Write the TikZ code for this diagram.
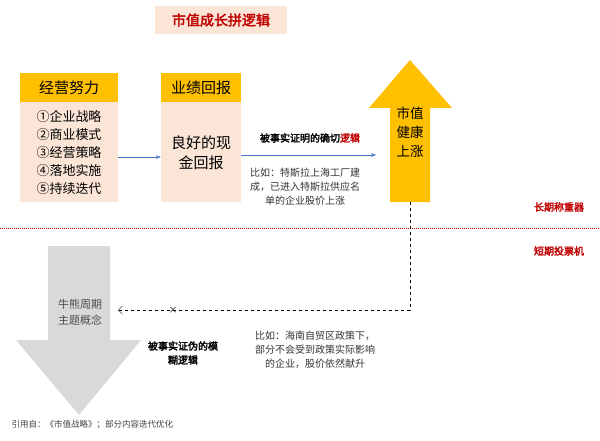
\documentclass[tikz,border=0pt]{standalone}
\usepackage{fontspec}
\setmainfont{Noto Sans CJK SC}[AutoFakeBold=2.5]
\usetikzlibrary{arrows.meta,positioning}
\definecolor{gold}{HTML}{FFC000}
\definecolor{peach}{HTML}{FBE5D6}
\definecolor{darkred}{HTML}{C00000}
\definecolor{flowblue}{HTML}{4472C4}
\begin{document}
\begin{tikzpicture}[x=1pt,y=-1pt]
  \tikzset{head/.style = {fill=gold,minimum width=98pt,minimum height=29pt,inner sep=0pt,font=\fontsize{15}{16}\selectfont}}
  \tikzset{body/.style = {fill=peach,minimum width=98pt,minimum height=100pt,inner sep=0pt,align=center}}
  \tikzset{note/.style = {align=center,font=\fontsize{10}{14}\selectfont,text=black!80}}
  \tikzset{side/.style = {text=darkred,font=\fontsize{10}{11}\selectfont\bfseries}}
  \tikzset{edge/.style = {-{Stealth[length=5pt]},flowblue}}
  \useasboundingbox (0,0) rectangle (600,441);

  % title
  \node[fill=peach,minimum width=132pt,minimum height=28pt,text=darkred,font=\fontsize{14}{15}\selectfont\bfseries] (title) at (221,20) {市值成长拼逻辑};

  % two boxes
  \node[head] (effH) at (69,87.5) {经营努力};
  \node[body,below=0pt of effH,font=\fontsize{13}{18}\selectfont] (effB) {①企业战略\\②商业模式\\③经营策略\\④落地实施\\⑤持续迭代};
  \node[head,minimum width=80pt] (perfH) at (201,87.5) {业绩回报};
  \node[body,minimum width=80pt,below=0pt of perfH,font=\fontsize{15}{20}\selectfont] (perfB) {良好的现\\金回报};

  % up arrow
  \fill[gold] (390,202) -- (390,108) -- (369,108) -- (410,60) -- (452,108) -- (430,108) -- (430,202) -- cycle;
  \node[align=center,font=\fontsize{13.5}{19}\selectfont] (up) at (410,132) {市值\\健康\\上涨};
  \coordinate (upB) at (410,202);

  % down arrow
  \fill[black!15] (48,246) -- (110,246) -- (110,340) -- (141,340) -- (79,415) -- (16,340) -- (48,340) -- cycle;
  \node[align=center,text=black!70,font=\fontsize{11}{16}\selectfont] (down) at (80,312) {牛熊周期\\主题概念};
  \coordinate (downR) at (118,310);

  \draw[edge] (effB.east|-0,157) -- (perfB.west|-0,157);
  \coordinate (a2) at (376,155);
  \draw[edge] (perfB.east|-0,155) -- (a2);
  \node[font=\fontsize{10}{11}\selectfont\bfseries] (proven) at (310,138) {被事实证明的确切\textcolor{darkred}{逻辑}};
  \node[note] (tesla) at (305,187) {比如：特斯拉上海工厂建\\成，已进入特斯拉供应名\\单的企业股价上涨};

  % divider
  \draw[darkred,densely dotted,line width=1pt] (0,228) -- (600,228);
  \node[side] (longT) at (559,207) {长期称重器};
  \node[side] (shortT) at (559,251) {短期投票机};

  % false logic
  \coordinate (corner) at (410,310);
  \draw[dashed,-{Straight Barb[length=4pt]}] (upB) -- (corner) -- (downR);
  \node[font=\fontsize{9}{9}\selectfont] (xmark) at (173,310) {×};
  \node[align=center,font=\fontsize{10}{14}\selectfont\bfseries] (falsified) at (183,353) {被事实证伪的模\\糊逻辑};
  \node[note] (hainan) at (315,350) {比如：海南自贸区政策下，\\部分不会受到政策实际影响\\的企业，股价依然献升};

  \node[anchor=west,text=black!75,font=\fontsize{8.5}{10}\selectfont] (cite) at (8,425) {引用自：《市值战略》；部分内容迭代优化};
\end{tikzpicture}
\end{document}
